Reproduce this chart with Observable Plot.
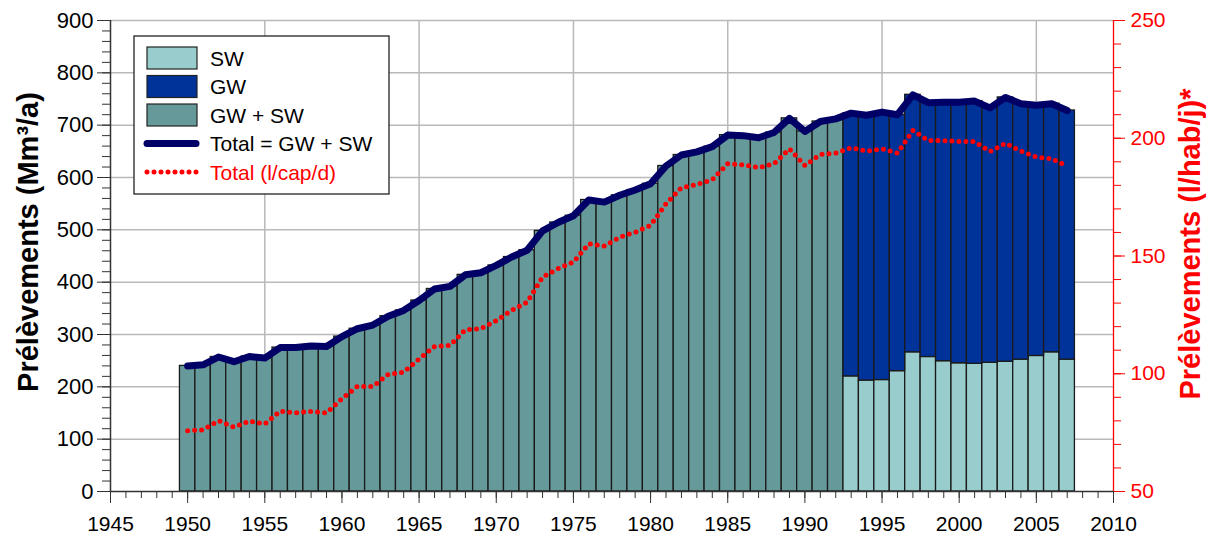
<!DOCTYPE html>
<html><head><meta charset="utf-8">
<script src="https://cdn.jsdelivr.net/npm/d3@7"></script>
<script src="https://cdn.jsdelivr.net/npm/@observablehq/plot@0.6"></script>
<style>body{margin:0;background:#fff;} #chart{position:relative;width:1209px;height:537px;}</style>
</head><body><div id="chart"></div>
<script>
// ---- data ----
const years = [1950,1951,1952,1953,1954,1955,1956,1957,1958,1959,1960,1961,1962,1963,1964,1965,1966,1967,1968,1969,1970,1971,1972,1973,1974,1975,1976,1977,1978,1979,1980,1981,1982,1983,1984,1985,1986,1987,1988,1989,1990,1991,1992,1993,1994,1995,1996,1997,1998,1999,2000,2001,2002,2003,2004,2005,2006,2007];
// Total withdrawals (Mm3/a)
const totalValues = [240,242,257,248,258,255,275,275,278,277,296,311,318,335,346,365,387,392,414,418,432,448,461,498,514,527,557,553,566,576,588,622,643,649,659,681,680,676,686,713,688,707,712,723,719,725,720,758,743,744,744,746,733,753,741,738,741,728];
// Surface water share (Mm3/a), 1993-2007
const swYears = [1993,1994,1995,1996,1997,1998,1999,2000,2001,2002,2003,2004,2005,2006,2007];
const swValues = [220,212,213,230,266,257,249,245,244,246,248,252,259,266,252];
// Per-capita withdrawals (l/hab/j)
const perCapValues = [75.8,76.2,80.1,77.3,79.9,78.7,84.1,83.4,84.0,83.4,89.4,94.6,94.6,99.7,100.7,106.3,111.6,112.0,118.7,119.1,122.6,126.9,130.4,141.0,144.6,147.4,155.2,154.2,158.0,160.1,163.0,172.2,179.0,180.4,182.4,189.2,188.7,187.5,189.2,195.5,188.4,193.1,193.7,196.0,194.5,195.5,193.7,203.3,199.0,199.0,198.6,198.6,194.4,197.9,194.5,192.0,191.3,188.1];
// tick labels
const xMajorTicks = [1945,1950,1955,1960,1965,1970,1975,1980,1985,1990,1995,2000,2005,2010];
const xGridYears = [1955,1965,1975,1985,1995,2005];
const yLeftTicks = [0,100,200,300,400,500,600,700,800,900];
const yRightTicks = [50,100,150,200,250];
const legendLabels = ["SW","GW","GW + SW","Total = GW + SW","Total (l/cap/d)"];

// ---- derived tables ----
const splitStart = swYears[0];
const rows = years.map((y,i)=>({year:y,total:totalValues[i],cap:perCapValues[i]}));
const tealRows = rows.filter(d=>d.year<splitStart);
const splitRows = swYears.map((y,i)=>({year:y,sw:swValues[i],total:totalValues[years.indexOf(y)]}));
const toLeft = v => (v-50)*900/200;
const fromLeft = v => v*200/900+50;
const xMinor = d3.range(xMajorTicks[0], xMajorTicks[xMajorTicks.length-1]+1, 1);
const yLeftMinor = d3.range(0, 901, 20);
const yRightMinor = d3.range(50, 251, 10).map(toLeft);

const C = {sw:"#99cccc", gw:"#003399", both:"#669999", total:"#000066", red:"#ff0000", grid:"#b9b9b9", edge:"#1a1a1a"};
const FONT = "Liberation Sans, Arial, Helvetica, sans-serif";

const plot = Plot.plot({
  width:1209, height:537,
  marginLeft:110, marginRight:96, marginTop:20, marginBottom:46,
  x:{domain:[1945,2010]},
  y:{domain:[0,900]},
  style:{fontFamily:FONT, fontSize:"21px", background:"white", color:"black", overflow:"visible"},
  marks:[
    Plot.gridY(yLeftTicks.filter(d=>d>0), {stroke:C.grid, strokeOpacity:1, strokeWidth:1.5}),
    Plot.gridX(xGridYears, {stroke:C.grid, strokeOpacity:1, strokeWidth:1.5}),
    Plot.rect(tealRows, {x1:d=>d.year-0.5, x2:d=>d.year+0.5, y1:0, y2:"total", fill:C.both, stroke:C.edge, strokeWidth:1.3}),
    Plot.rect(splitRows, {x1:d=>d.year-0.5, x2:d=>d.year+0.5, y1:0, y2:"sw", fill:C.sw, stroke:C.edge, strokeWidth:1.3}),
    Plot.rect(splitRows, {x1:d=>d.year-0.5, x2:d=>d.year+0.5, y1:"sw", y2:"total", fill:C.gw, stroke:C.edge, strokeWidth:1.3}),
    // axes
    Plot.axisX(xMinor, {tickSize:7, tickFormat:()=>"", label:null, stroke:"#333"}),
    Plot.axisX(xMajorTicks, {tickSize:12, tickPadding:13, tickFormat:d=>String(d), label:null, fontSize:21, stroke:"#333"}),
    Plot.axisY(yLeftMinor, {anchor:"left", tickSize:8, tickFormat:()=>"", label:null, stroke:"#333"}),
    Plot.axisY(yLeftTicks, {anchor:"left", tickSize:13, tickPadding:4, tickFormat:d=>String(d), label:null, fontSize:22, stroke:"#333"}),
    Plot.axisY(yRightMinor, {anchor:"right", tickSize:7, tickFormat:()=>"", label:null, color:C.red}),
    Plot.axisY(yRightTicks.map(toLeft), {anchor:"right", tickSize:11, tickPadding:6, tickFormat:d=>String(Math.round(fromLeft(d))), label:null, fontSize:21, color:C.red}),
    Plot.ruleY([0], {stroke:"#333", strokeWidth:1.5}),
    Plot.ruleX([1945], {stroke:"#333", strokeWidth:1.5}),
    Plot.ruleX([2010], {stroke:C.red, strokeWidth:1.3}),
    // lines
    Plot.line(rows, {x:"year", y:"total", stroke:C.total, strokeWidth:7, strokeLinejoin:"round", strokeLinecap:"round"}),
    Plot.line(rows, {x:"year", y:d=>toLeft(d.cap), stroke:C.red, strokeWidth:5, strokeDasharray:"0 7", strokeLinecap:"round", strokeLinejoin:"round"})
  ]
});
document.getElementById("chart").appendChild(plot);

const svg = d3.select(plot);
// axis titles
svg.append("text").attr("transform","translate(38,242) rotate(-90)")
  .attr("text-anchor","middle").attr("font-family",FONT).attr("font-size",29).attr("font-weight","bold")
  .attr("fill","black").text("Prélèvements (Mm³/a)");
svg.append("text").attr("transform","translate(1200,244) rotate(-90)")
  .attr("text-anchor","middle").attr("font-family",FONT).attr("font-size",29).attr("font-weight","bold")
  .attr("fill",C.red).text("Prélèvements (l/hab/j)*");

// legend
const lg = svg.append("g").attr("font-family",FONT).attr("font-size",21).attr("text-anchor","start");
lg.append("rect").attr("x",134).attr("y",36).attr("width",255).attr("height",158)
  .attr("fill","white").attr("stroke","#222").attr("stroke-width",1.3);
const rowY = [58,86.5,115,143.5,172];
[C.sw,C.gw,C.both].forEach((c,i)=>{
  lg.append("rect").attr("x",147).attr("y",rowY[i]-11).attr("width",50).attr("height",22)
    .attr("fill",c).attr("stroke","#222").attr("stroke-width",1.2);
});
lg.append("line").attr("x1",147).attr("x2",196).attr("y1",rowY[3]).attr("y2",rowY[3])
  .attr("stroke",C.total).attr("stroke-width",7).attr("stroke-linecap","round");
lg.append("line").attr("x1",147).attr("x2",197).attr("y1",rowY[4]).attr("y2",rowY[4])
  .attr("stroke",C.red).attr("stroke-width",5).attr("stroke-dasharray","0 7").attr("stroke-linecap","round");
legendLabels.forEach((t,i)=>{
  lg.append("text").attr("x",210).attr("y",rowY[i]+7.5).attr("text-anchor","start")
    .attr("fill", i===4?C.red:"black").text(t);
});
</script>
</body></html>
